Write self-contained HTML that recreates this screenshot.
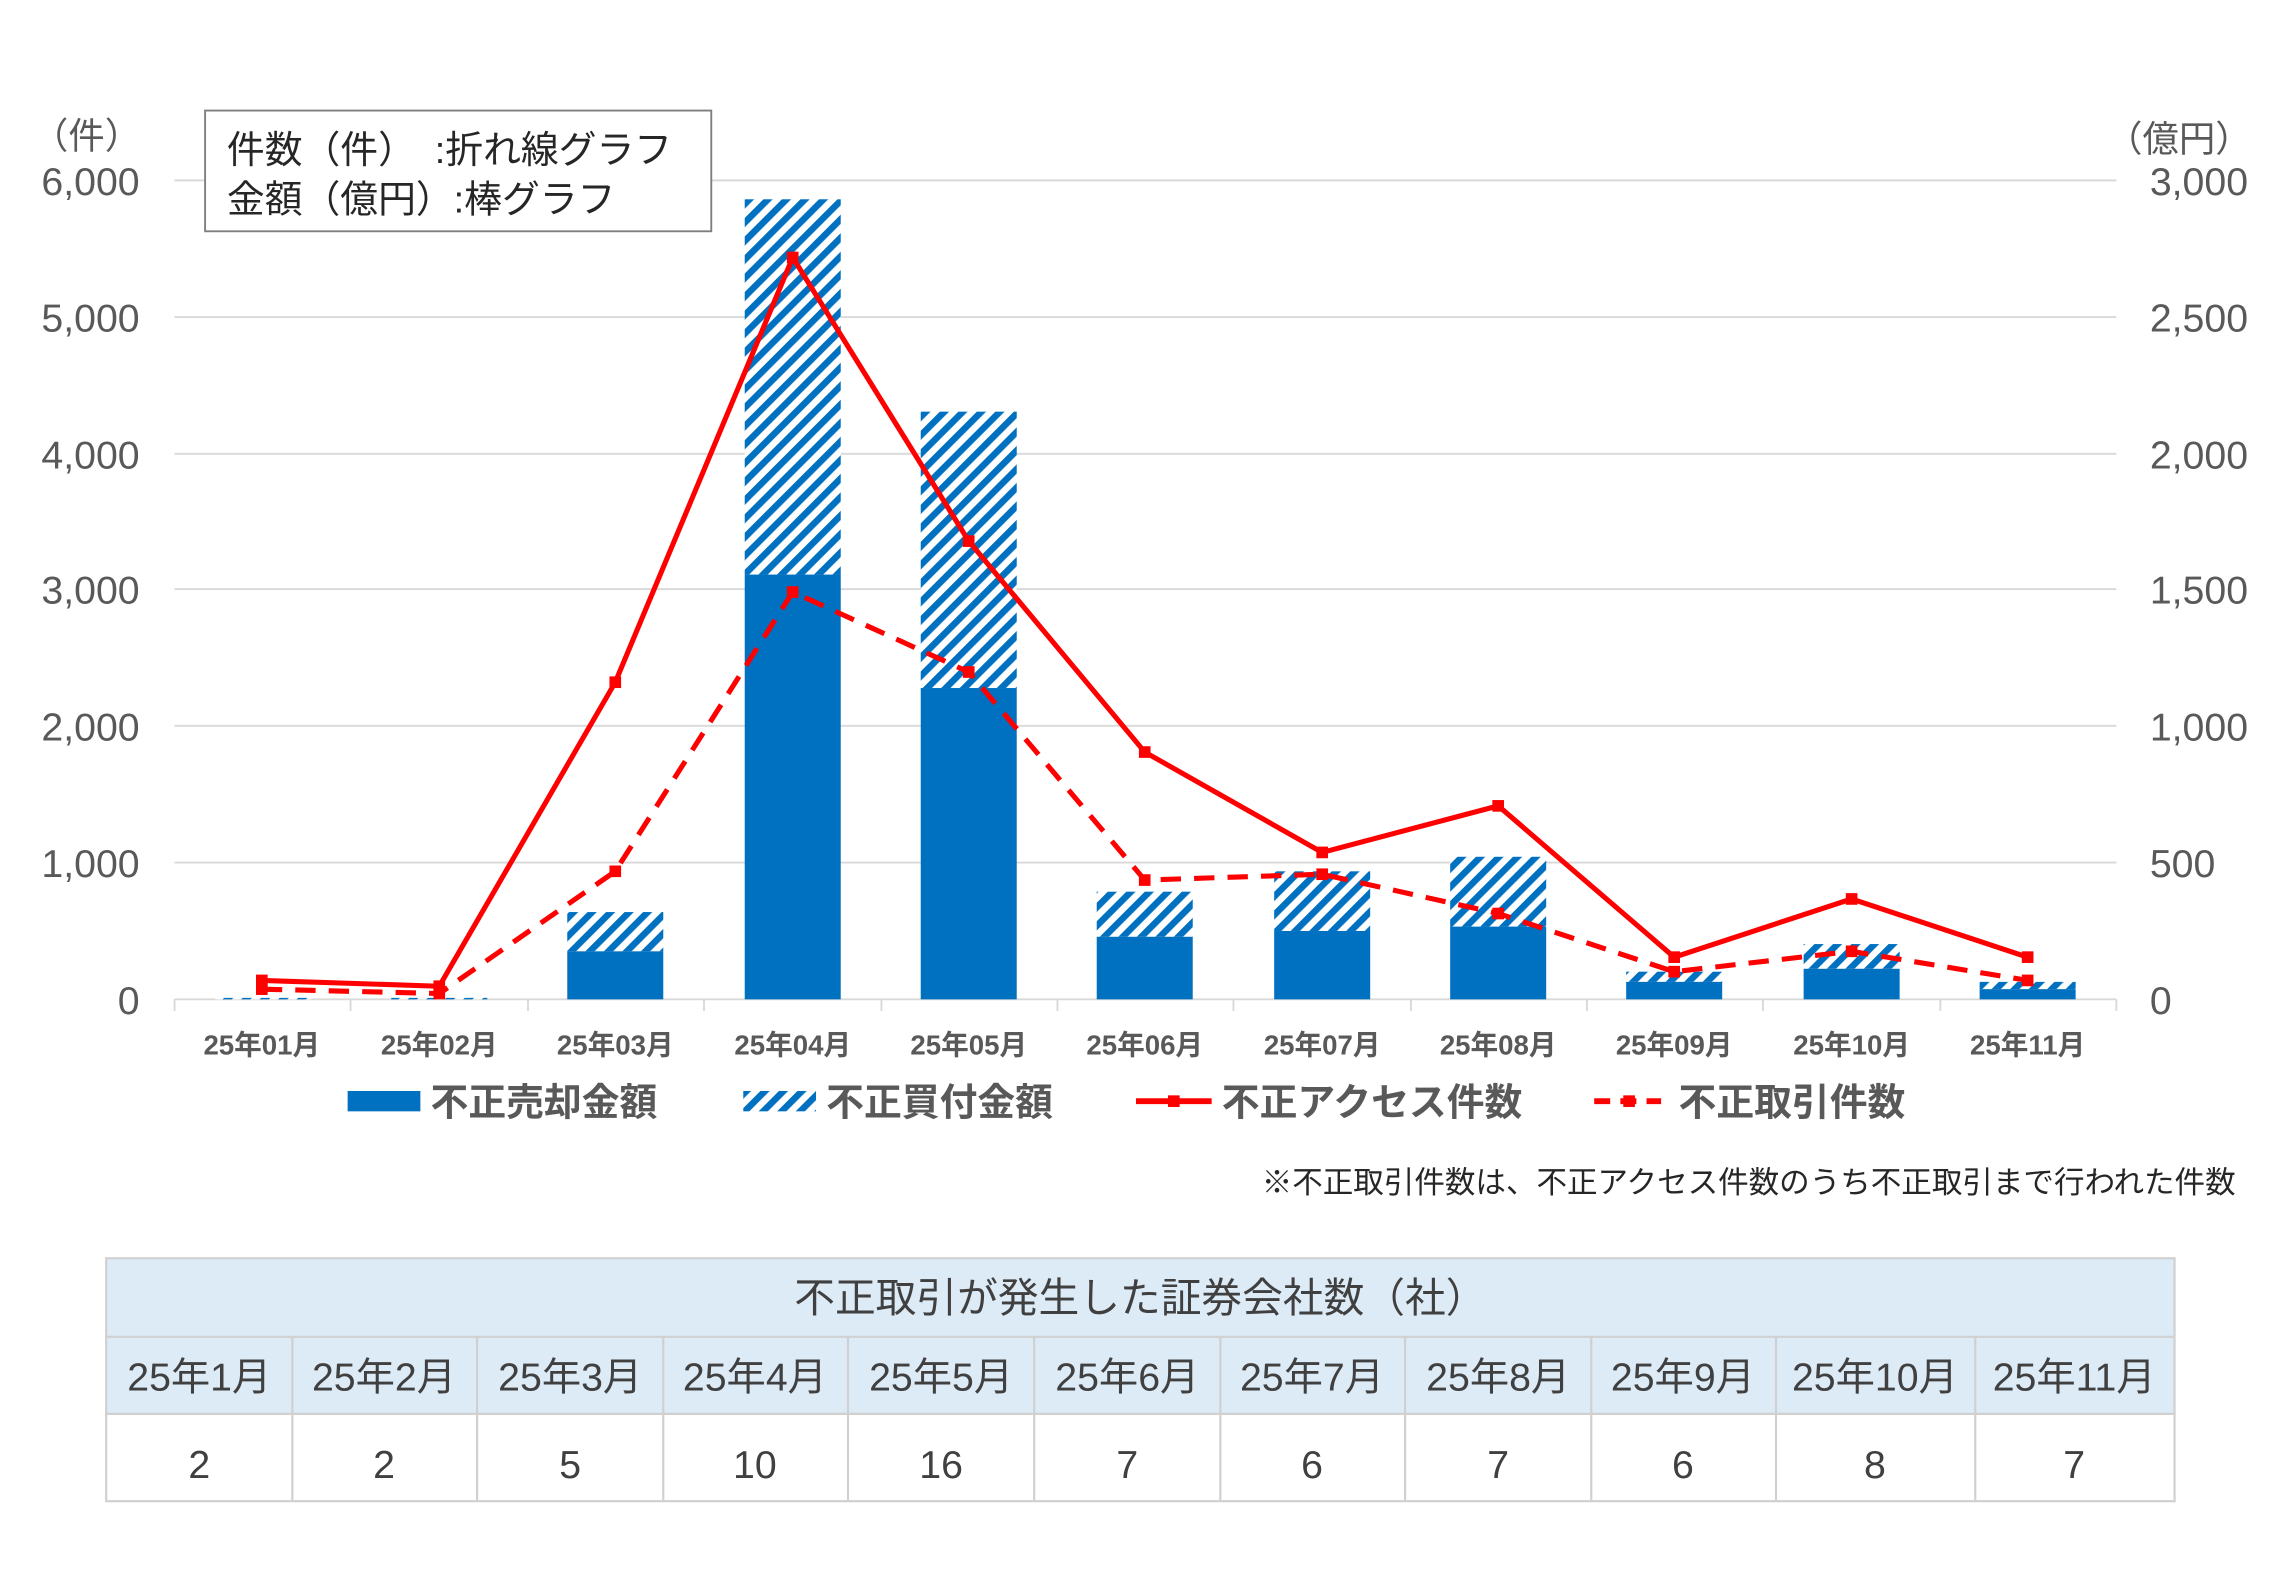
<!DOCTYPE html>
<html><head><meta charset="utf-8"><style>
html,body{margin:0;padding:0;background:#fff;}
svg{display:block;}
text{font-family:"Liberation Sans","Noto Sans CJK JP",sans-serif;}
</style></head><body>
<svg width="2280" height="1579" viewBox="0 0 1567.5 1085.5" preserveAspectRatio="none" xmlns="http://www.w3.org/2000/svg">
<defs>
<pattern id="h" patternUnits="userSpaceOnUse" width="9" height="9" patternTransform="rotate(45)">
<rect width="9" height="9" fill="#fff"/><rect width="4.5" height="9" fill="#0070c0"/>
</pattern>
</defs>
<g stroke="#d9d9d9" stroke-width="1.3">
<line x1="120" x2="1455" y1="124" y2="124"/><line x1="120" x2="1455" y1="218" y2="218"/>
<line x1="120" x2="1455" y1="312" y2="312"/><line x1="120" x2="1455" y1="405" y2="405"/>
<line x1="120" x2="1455" y1="499" y2="499"/><line x1="120" x2="1455" y1="593" y2="593"/>
<line x1="120" x2="1455" y1="687" y2="687"/>
<line x1="120" x2="120" y1="687" y2="695"/><line x1="241" x2="241" y1="687" y2="695"/><line x1="363" x2="363" y1="687" y2="695"/><line x1="484" x2="484" y1="687" y2="695"/><line x1="606" x2="606" y1="687" y2="695"/><line x1="727" x2="727" y1="687" y2="695"/><line x1="848" x2="848" y1="687" y2="695"/><line x1="970" x2="970" y1="687" y2="695"/><line x1="1091" x2="1091" y1="687" y2="695"/><line x1="1212" x2="1212" y1="687" y2="695"/><line x1="1334" x2="1334" y1="687" y2="695"/><line x1="1455" x2="1455" y1="687" y2="695"/>
</g>
<g font-size="27" fill="#595959" text-anchor="end">
<text x="96" y="134">6,000</text><text x="96" y="228">5,000</text><text x="96" y="322">4,000</text><text x="96" y="415">3,000</text><text x="96" y="509">2,000</text><text x="96" y="603">1,000</text><text x="96" y="697">0</text>
</g>
<g font-size="27" fill="#595959">
<text x="1478" y="134">3,000</text><text x="1478" y="228">2,500</text><text x="1478" y="322">2,000</text><text x="1478" y="415">1,500</text><text x="1478" y="509">1,000</text><text x="1478" y="603">500</text><text x="1478" y="697">0</text>
<text x="22" y="102" font-size="25">（件）</text><text x="1448" y="104" font-size="25">（億円）</text>
</g>
<rect x="141" y="76" width="348" height="83" fill="#fff" stroke="#7f7f7f" stroke-width="1.3"/>
<text x="156" y="112" font-size="26" fill="#262626">件数（件）　:折れ線グラフ</text>
<text x="156" y="146" font-size="26" fill="#262626">金額（億円）:棒グラフ</text>
<g>
<rect x="148" y="686" width="66" height="1" fill="url(#h)"/>
<rect x="269" y="686" width="66" height="1" fill="url(#h)"/>
<rect x="390" y="627" width="66" height="27" fill="url(#h)"/><rect x="390" y="654" width="66" height="33" fill="#0070c0"/>
<rect x="512" y="137" width="66" height="258" fill="url(#h)"/><rect x="512" y="395" width="66" height="292" fill="#0070c0"/>
<rect x="633" y="283" width="66" height="190" fill="url(#h)"/><rect x="633" y="473" width="66" height="214" fill="#0070c0"/>
<rect x="754" y="613" width="66" height="31" fill="url(#h)"/><rect x="754" y="644" width="66" height="43" fill="#0070c0"/>
<rect x="876" y="599" width="66" height="41" fill="url(#h)"/><rect x="876" y="640" width="66" height="47" fill="#0070c0"/>
<rect x="997" y="589" width="66" height="48" fill="url(#h)"/><rect x="997" y="637" width="66" height="50" fill="#0070c0"/>
<rect x="1118" y="668" width="66" height="7" fill="url(#h)"/><rect x="1118" y="675" width="66" height="12" fill="#0070c0"/>
<rect x="1240" y="649" width="66" height="17" fill="url(#h)"/><rect x="1240" y="666" width="66" height="21" fill="#0070c0"/>
<rect x="1361" y="675" width="66" height="5" fill="url(#h)"/><rect x="1361" y="680" width="66" height="7" fill="#0070c0"/>
</g>
<polyline fill="none" stroke="#ff0000" stroke-width="3.5" stroke-linejoin="round" points="180,674 302,678 423,469 545,177 666,372 787,517 909,586 1030,554 1151,658 1273,618 1394,658"/>
<polyline fill="none" stroke="#ff0000" stroke-width="3.5" stroke-dasharray="14,9" points="180,680 302,683 423,599 545,407 666,462 787,605 909,601 1030,628 1151,668 1273,654 1394,674"/>
<g fill="#ff0000">
<rect x="176" y="670" width="8" height="8"/><rect x="298" y="674" width="8" height="8"/><rect x="419" y="465" width="8" height="8"/><rect x="541" y="173" width="8" height="8"/><rect x="662" y="368" width="8" height="8"/><rect x="783" y="513" width="8" height="8"/><rect x="905" y="582" width="8" height="8"/><rect x="1026" y="550" width="8" height="8"/><rect x="1147" y="654" width="8" height="8"/><rect x="1269" y="614" width="8" height="8"/><rect x="1390" y="654" width="8" height="8"/>
<rect x="176" y="676" width="8" height="8"/><rect x="298" y="679" width="8" height="8"/><rect x="419" y="595" width="8" height="8"/><rect x="541" y="403" width="8" height="8"/><rect x="662" y="458" width="8" height="8"/><rect x="783" y="601" width="8" height="8"/><rect x="905" y="597" width="8" height="8"/><rect x="1026" y="624" width="8" height="8"/><rect x="1147" y="664" width="8" height="8"/><rect x="1269" y="650" width="8" height="8"/><rect x="1390" y="670" width="8" height="8"/>
</g>
<g font-size="19" fill="#595959" text-anchor="middle" font-weight="bold">
<text x="180" y="725">25年01月</text><text x="302" y="725">25年02月</text><text x="423" y="725">25年03月</text><text x="545" y="725">25年04月</text><text x="666" y="725">25年05月</text><text x="787" y="725">25年06月</text><text x="909" y="725">25年07月</text><text x="1030" y="725">25年08月</text><text x="1151" y="725">25年09月</text><text x="1273" y="725">25年10月</text><text x="1394" y="725">25年11月</text>
</g>
<g font-size="26" fill="#595959" font-weight="bold">
<rect x="239" y="750" width="50" height="14" fill="#0070c0"/><text x="296" y="767">不正売却金額</text>
<rect x="511" y="750" width="50" height="14" fill="url(#h)"/><text x="568" y="767">不正買付金額</text>
<line x1="781" y1="757" x2="833" y2="757" stroke="#ff0000" stroke-width="4"/><rect x="803" y="753" width="8" height="8" fill="#f00"/><text x="840" y="767">不正アクセス件数</text>
<line x1="1096" y1="757" x2="1142" y2="757" stroke="#ff0000" stroke-width="4" stroke-dasharray="11,7"/><rect x="1116" y="753" width="8" height="8" fill="#f00"/><text x="1154" y="767">不正取引件数</text>
</g>
<text x="1537" y="820" font-size="21" fill="#262626" text-anchor="end">※不正取引件数は、不正アクセス件数のうち不正取引まで行われた件数</text>
<rect x="73" y="865" width="1422" height="107" fill="#ddebf7"/>
<g stroke="#d0d0d0" stroke-width="1.5" fill="none">
<rect x="73" y="865" width="1422" height="167"/>
<line x1="73" x2="1495" y1="919" y2="919"/><line x1="73" x2="1495" y1="972" y2="972"/>
<line x1="201" x2="201" y1="919" y2="1032"/><line x1="328" x2="328" y1="919" y2="1032"/><line x1="456" x2="456" y1="919" y2="1032"/><line x1="583" x2="583" y1="919" y2="1032"/><line x1="711" x2="711" y1="919" y2="1032"/><line x1="839" x2="839" y1="919" y2="1032"/><line x1="966" x2="966" y1="919" y2="1032"/><line x1="1094" x2="1094" y1="919" y2="1032"/><line x1="1221" x2="1221" y1="919" y2="1032"/><line x1="1358" x2="1358" y1="919" y2="1032"/>
</g>
<text x="784" y="902" font-size="28" fill="#404040" text-anchor="middle">不正取引が発生した証券会社数（社）</text>
<g font-size="27" fill="#404040" text-anchor="middle">
<text x="137" y="956">25年1月</text><text x="264" y="956">25年2月</text><text x="392" y="956">25年3月</text><text x="519" y="956">25年4月</text><text x="647" y="956">25年5月</text><text x="775" y="956">25年6月</text><text x="902" y="956">25年7月</text><text x="1030" y="956">25年8月</text><text x="1157" y="956">25年9月</text><text x="1289" y="956">25年10月</text><text x="1426" y="956">25年11月</text>
<text x="137" y="1016">2</text><text x="264" y="1016">2</text><text x="392" y="1016">5</text><text x="519" y="1016">10</text><text x="647" y="1016">16</text><text x="775" y="1016">7</text><text x="902" y="1016">6</text><text x="1030" y="1016">7</text><text x="1157" y="1016">6</text><text x="1289" y="1016">8</text><text x="1426" y="1016">7</text>
</g>
</svg>
</body></html>
